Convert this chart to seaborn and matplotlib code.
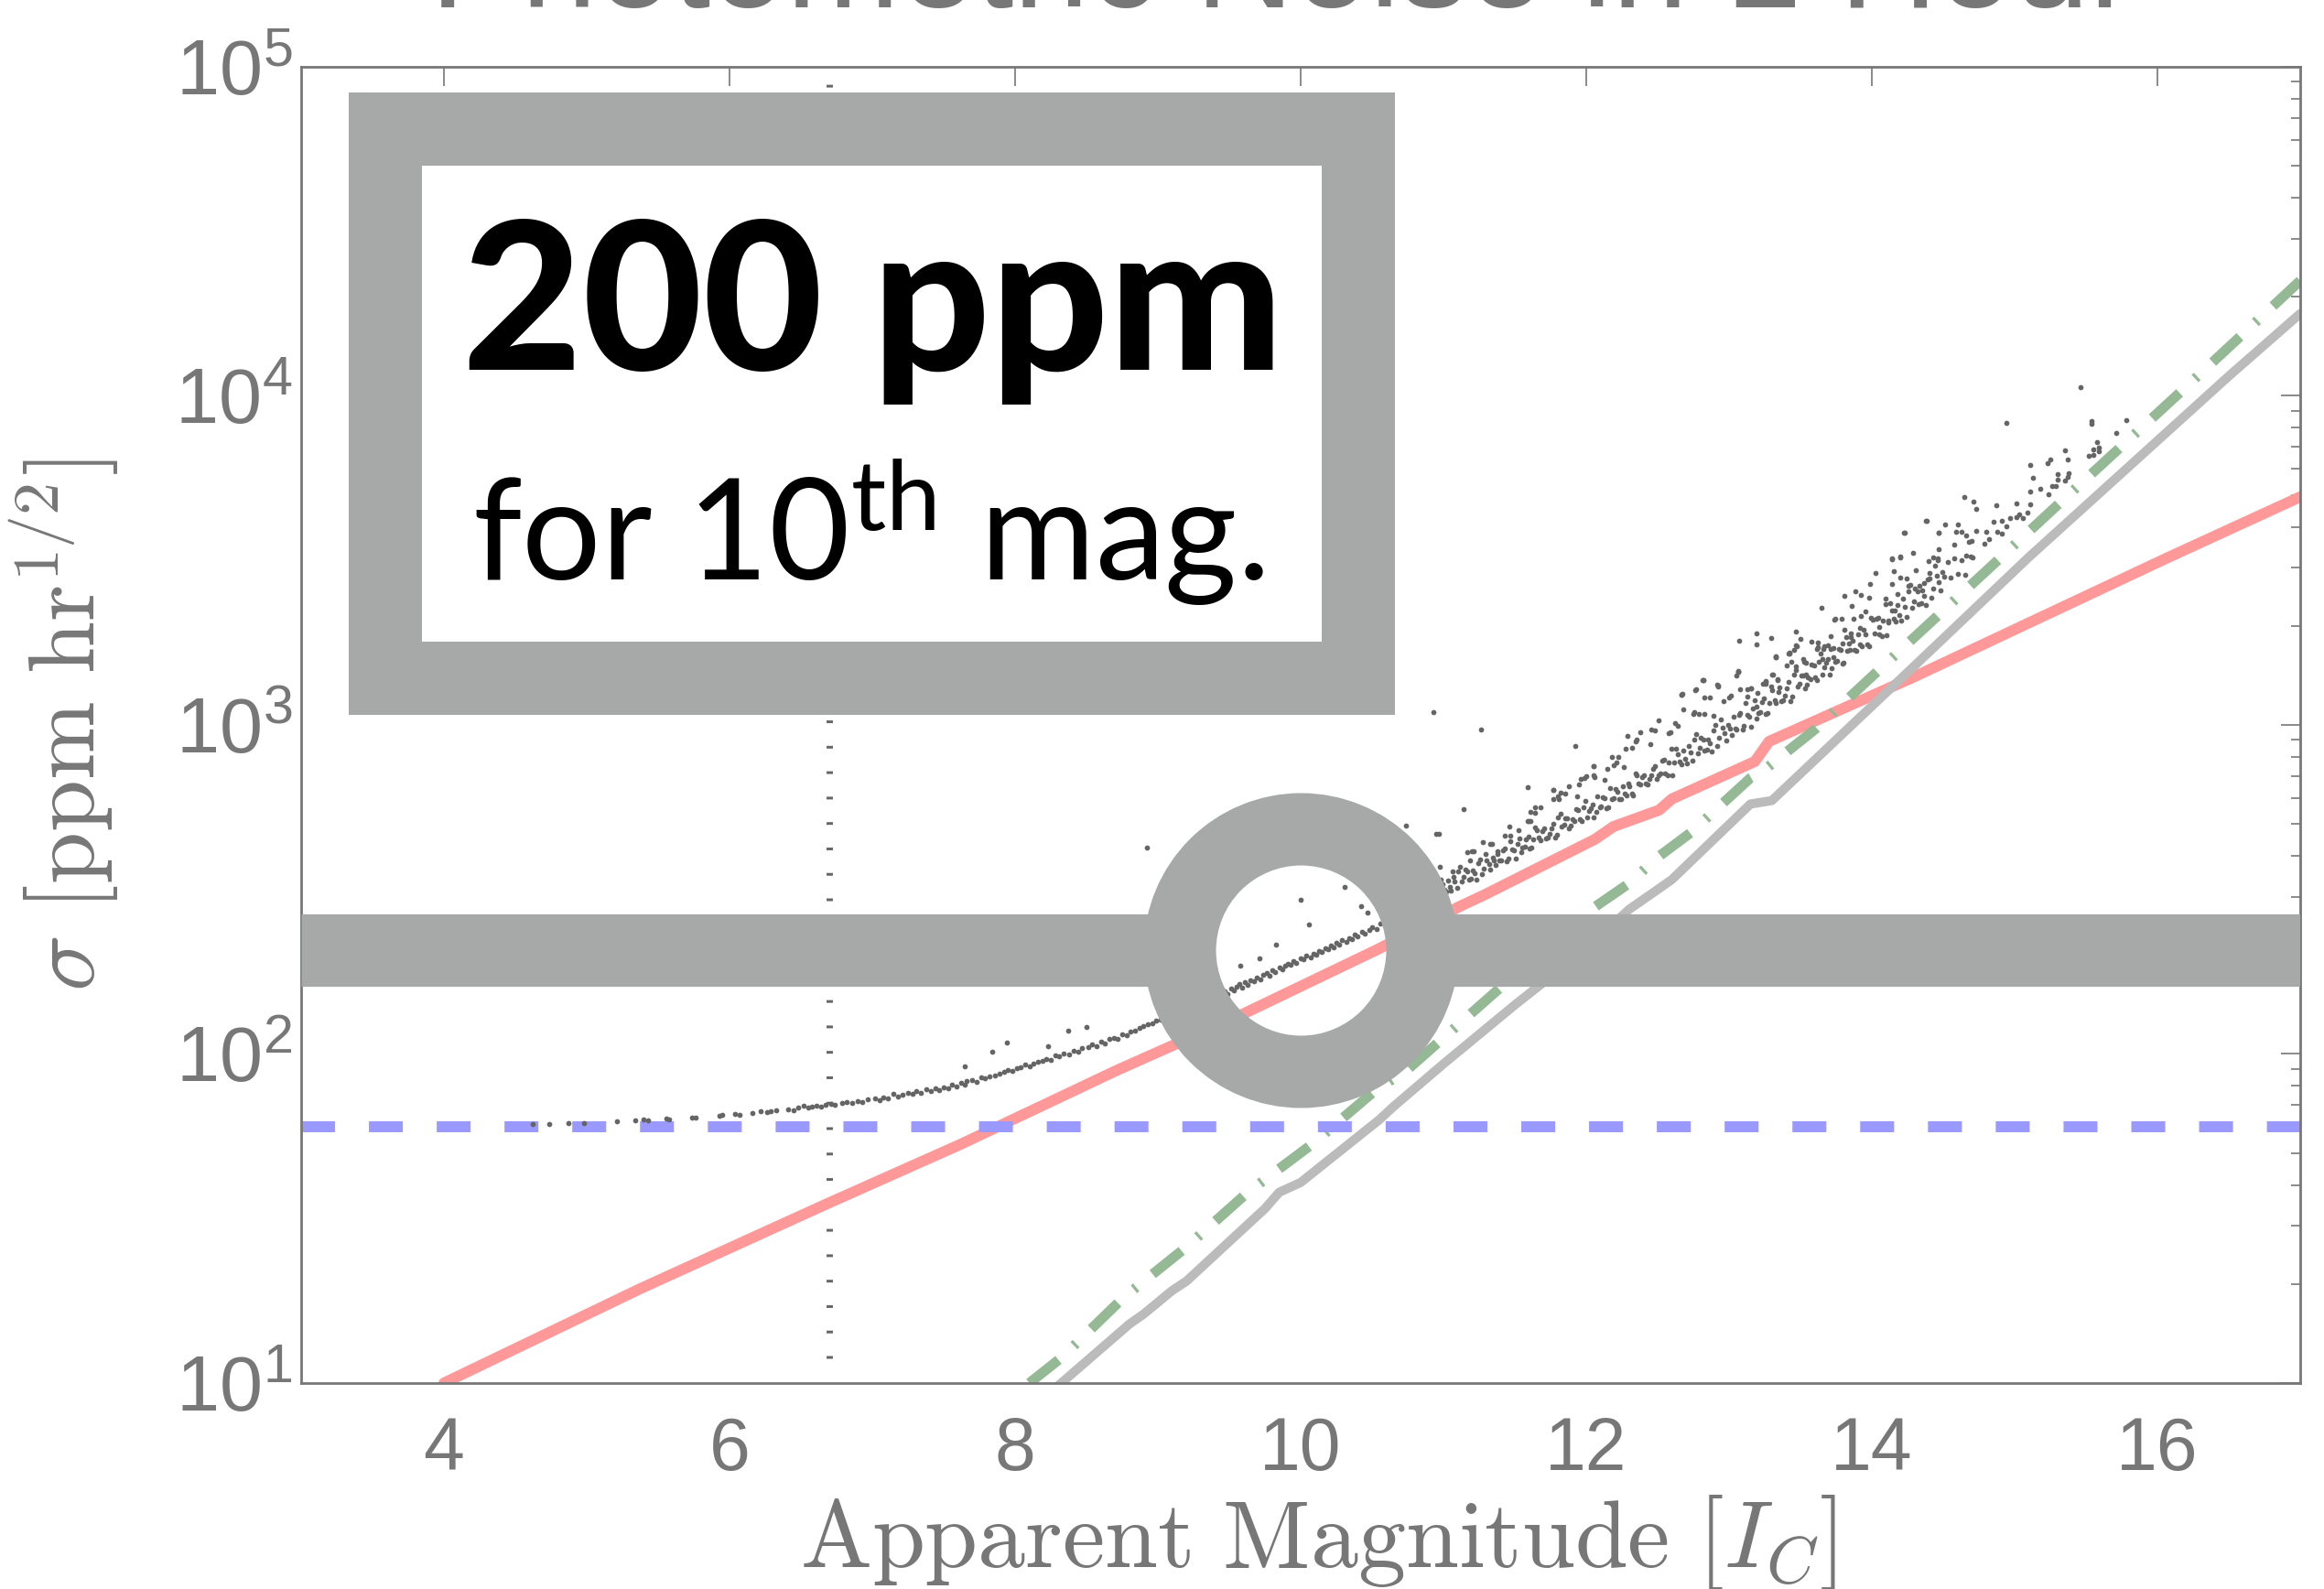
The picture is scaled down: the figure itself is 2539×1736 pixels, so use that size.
import numpy as np
import pandas as pd
import seaborn as sns
import matplotlib.pyplot as plt
from matplotlib.patches import Rectangle
from matplotlib.ticker import NullLocator, NullFormatter, FixedLocator

############
# the data
############

# noise curves, magnitude vs ppm per sqrt(hour)
star_mag = [4.0, 5.38, 6.66, 7.62, 8.71, 9.56, 10.54, 10.95, 11.1, 11.29,
            12.06, 12.19, 12.51, 12.60, 13.18, 13.28, 14.29, 16.06, 17.0]
star_ppm = [10.0, 19.4, 34.7, 53.2, 89.1, 130, 208, 257, 279, 305,
            449, 491, 551, 596, 774, 891, 1396, 3206, 4932]

bkg_mag = [8.30, 8.80, 8.90, 9.10, 9.20, 9.75, 9.85, 10.00, 10.55, 10.65,
           11.00, 11.50, 12.00, 12.30, 12.50, 12.60, 13.15, 13.30, 14.30,
           15.10, 16.50, 17.00]
bkg_ppm = [9.8, 15.1, 16.2, 19.1, 20.4, 33.9, 38.0, 40.7, 63.1, 69.2,
           93.3, 141, 209, 275, 316, 339, 575, 589, 1514,
           3236, 11482, 17783]

read_mag = [8.10, 8.33, 8.76, 9.19, 9.63, 10.08, 10.51, 10.76, 11.0, 11.5,
            12.04, 12.30, 12.49, 12.73, 13.15, 13.24, 13.60, 14.03, 15.30,
            16.15, 17.0]
read_ppm = [10.0, 12.0, 18.2, 25.7, 38.0, 53.2, 76.7, 90.6, 112, 174,
            276, 330, 393, 470, 690, 726, 968, 1442, 4656,
            10162, 22387]

floor_ppm = 60
sat_mag = 6.7
sat_span = [11.9, 92000]

marker_mag = 10
marker_ppm = 207

# stars: (magnitude, log10 ppm)
dots_bright = [
    (4.62, 1.787), (4.74, 1.788), (4.87, 1.790), (4.98, 1.789), (5.21, 1.795),
    (5.34, 1.799), (5.40, 1.800), (5.43, 1.797), (5.56, 1.803), (5.58, 1.801),
    (5.74, 1.806), (5.76, 1.808), (5.93, 1.813), (5.95, 1.815), (6.04, 1.818),
    (6.07, 1.816), (6.16, 1.821), (6.22, 1.826), (6.26, 1.823), (6.29, 1.827),
    (6.33, 1.829), (6.41, 1.831), (6.45, 1.830), (6.48, 1.838), (6.52, 1.843),
    (6.55, 1.836), (6.58, 1.841), (6.61, 1.844), (6.64, 1.840), (6.67, 1.846),
    (6.71, 1.848), (6.74, 1.845), (6.79, 1.850), (6.82, 1.853), (6.86, 1.851),
    (6.90, 1.858), (6.93, 1.855), (6.97, 1.861),
    (7.02, 1.866), (7.05, 1.860), (7.08, 1.868), (7.11, 1.864), (7.15, 1.879),
    (7.18, 1.872), (7.21, 1.875), (7.25, 1.882), (7.28, 1.878), (7.31, 1.886),
    (7.34, 1.881), (7.38, 1.893), (7.41, 1.887), (7.44, 1.896), (7.47, 1.891),
    (7.50, 1.899), (7.53, 1.895), (7.56, 1.907), (7.59, 1.901), (7.62, 1.912),
    (7.65, 1.906), (7.65, 1.962), (7.66, 1.918), (7.70, 1.920), (7.73, 1.914),
    (7.76, 1.928), (7.79, 1.925), (7.82, 1.933), (7.84, 2.007), (7.86, 1.936),
    (7.89, 1.941), (7.92, 1.945), (7.94, 2.035), (7.95, 1.950), (7.98, 1.948),
    (8.01, 1.957), (8.04, 1.960), (8.07, 1.967), (8.10, 1.963), (8.13, 1.972),
    (8.16, 1.975), (8.19, 1.978), (8.22, 1.986), (8.23, 2.024), (8.25, 1.983),
    (8.28, 1.995), (8.31, 1.992), (8.34, 2.002), (8.37, 2.071), (8.38, 1.998),
    (8.41, 2.010), (8.44, 2.006), (8.47, 2.018), (8.50, 2.082), (8.51, 2.021),
    (8.54, 2.028), (8.57, 2.025), (8.60, 2.037), (8.63, 2.033), (8.66, 2.045),
    (8.69, 2.050), (8.72, 2.047), (8.75, 2.060), (8.78, 2.057), (8.81, 2.068),
    (8.84, 2.072), (8.87, 2.078), (8.90, 2.085), (8.92, 2.627), (8.93, 2.090),
    (8.96, 2.094), (8.99, 2.101), (9.02, 2.104), (9.05, 2.114), (9.08, 2.116),
    (9.11, 2.127), (9.14, 2.124),
]

dots_ring = [
    (9.18, 2.132), (9.22, 2.140), (9.26, 2.145), (9.30, 2.156), (9.34, 2.161),
    (9.37, 2.170), (9.40, 2.172), (9.42, 2.181), (9.45, 2.186), (9.47, 2.190),
    (9.49, 2.182), (9.51, 2.199), (9.53, 2.193), (9.55, 2.205), (9.57, 2.214),
    (9.58, 2.268), (9.59, 2.203), (9.61, 2.217), (9.63, 2.210), (9.65, 2.225),
    (9.67, 2.222), (9.69, 2.232), (9.71, 2.290), (9.72, 2.228), (9.74, 2.240),
    (9.76, 2.247), (9.78, 2.238), (9.80, 2.255), (9.82, 2.250), (9.83, 2.332),
    (9.85, 2.262), (9.87, 2.256), (9.89, 2.268), (9.91, 2.275), (9.93, 2.270),
    (9.95, 2.282), (9.97, 2.278), (10.00, 2.469), (10.00, 2.290), (10.02, 2.287),
    (10.04, 2.298), (10.06, 2.394), (10.07, 2.293), (10.09, 2.305), (10.11, 2.301),
    (10.13, 2.314), (10.15, 2.309), (10.17, 2.321), (10.19, 2.318), (10.21, 2.330),
    (10.23, 2.325), (10.25, 2.338), (10.27, 2.333), (10.29, 2.345), (10.31, 2.508),
    (10.32, 2.340), (10.34, 2.352), (10.36, 2.348), (10.38, 2.362), (10.40, 2.357),
    (10.42, 2.449), (10.43, 2.370), (10.45, 2.365), (10.47, 2.430), (10.48, 2.378),
    (10.50, 2.384), (10.53, 2.380), (10.56, 2.395), (10.59, 2.402), (10.62, 2.410),
    (10.66, 2.418), (10.70, 2.430), (10.74, 2.694), (10.75, 2.440), (10.80, 2.452),
]

dots_band_a = [
    (10.879, 2.493), (10.868, 2.464), (10.904, 2.465), (10.893, 2.496),
    (10.929, 2.494), (10.918, 2.464), (10.954, 2.466), (10.943, 2.526),
    (10.979, 2.529), (10.968, 2.497), (11.004, 2.500), (10.993, 2.516),
    (11.029, 2.526), (11.018, 2.494), (11.054, 2.497), (11.043, 2.508),
    (11.079, 2.524), (11.068, 2.539), (11.104, 2.554), (11.093, 2.506),
    (11.129, 2.524), (11.118, 2.568), (11.154, 2.560), (11.143, 2.537),
    (11.179, 2.531), (11.168, 2.556), (11.204, 2.559), (11.193, 2.534),
    (11.229, 2.531), (11.218, 2.549), (11.254, 2.592), (11.243, 2.579),
    (11.279, 2.563), (11.268, 2.546), (11.304, 2.589), (11.293, 2.608),
    (11.329, 2.561), (11.318, 2.578), (11.354, 2.587), (11.343, 2.596),
    (11.379, 2.617), (11.368, 2.574), (11.404, 2.587), (11.393, 2.589),
    (11.429, 2.624), (11.418, 2.620), (11.454, 2.594), (11.443, 2.586),
    (11.479, 2.622), (11.468, 2.648), (11.504, 2.594), (11.493, 2.618),
    (11.529, 2.656), (11.518, 2.637), (11.554, 2.626), (11.543, 2.614),
    (11.579, 2.652), (11.568, 2.629), (11.604, 2.624), (11.593, 2.660),
    (11.629, 2.651), (11.618, 2.627), (11.654, 2.680), (11.643, 2.688),
    (11.679, 2.650), (11.668, 2.658), (11.704, 2.687), (11.693, 2.677),
    (11.729, 2.658), (11.718, 2.655), (11.754, 2.685), (11.743, 2.669),
    (11.779, 2.657), (11.768, 2.700), (11.804, 2.719), (11.793, 2.667),
    (11.829, 2.690), (11.818, 2.729), (11.854, 2.715), (11.843, 2.698),
    (11.879, 2.687), (11.868, 2.717), (11.904, 2.714), (11.893, 2.695),
    (11.929, 2.743), (11.918, 2.709), (11.954, 2.713), (11.943, 2.740),
    (11.979, 2.750), (11.968, 2.707), (12.004, 2.720), (11.993, 2.768),
    (12.029, 2.748), (12.018, 2.738), (12.054, 2.720), (12.043, 2.757),
    (12.079, 2.782), (12.068, 2.735), (12.104, 2.752), (12.093, 2.749),
    (12.129, 2.778), (12.118, 2.780), (12.154, 2.750), (12.143, 2.747),
    (12.179, 2.776), (12.168, 2.808), (12.204, 2.806), (12.193, 2.778),
    (12.229, 2.776), (12.218, 2.797), (12.254, 2.814), (12.243, 2.776),
    (12.279, 2.785), (12.268, 2.791), (12.304, 2.814), (12.293, 2.823),
    (12.329, 2.786), (12.318, 2.790), (12.354, 2.848), (12.343, 2.852),
    (12.379, 2.820), (12.368, 2.823), (12.404, 2.846), (12.393, 2.842),
    (12.429, 2.819), (12.418, 2.821), (12.454, 2.846), (12.443, 2.836),
    (12.479, 2.876), (12.468, 2.867), (12.504, 2.847), (12.493, 2.835),
]

dots_band_b = [
    (12.529, 2.891), (12.518, 2.853), (12.554, 2.852), (12.543, 2.893),
    (12.579, 2.886), (12.568, 2.847), (12.604, 2.848), (12.593, 2.927),
    (12.629, 2.929), (12.618, 2.886), (12.654, 2.889), (12.643, 2.910),
    (12.679, 2.922), (12.668, 2.880), (12.704, 2.883), (12.693, 2.898),
    (12.729, 2.917), (12.718, 2.937), (12.754, 2.955), (12.743, 2.892),
    (12.779, 2.914), (12.768, 2.972), (12.804, 2.962), (12.793, 2.931),
    (12.829, 2.922), (12.818, 2.955), (12.854, 2.956), (12.843, 2.924),
    (12.879, 2.919), (12.868, 2.943), (12.904, 2.999), (12.893, 2.982),
    (12.929, 2.960), (12.918, 2.937), (12.954, 2.992), (12.943, 3.017),
    (12.979, 2.954), (12.968, 2.976), (13.004, 2.988), (12.993, 3.000),
    (13.029, 3.026), (13.018, 2.970), (13.054, 2.986), (13.043, 2.989),
    (13.079, 3.035), (13.068, 3.030), (13.104, 2.996), (13.093, 2.985),
    (13.129, 3.031), (13.118, 3.066), (13.154, 2.994), (13.143, 3.025),
    (13.179, 3.075), (13.168, 3.050), (13.204, 3.036), (13.193, 3.020),
    (13.229, 3.070), (13.218, 3.040), (13.254, 3.032), (13.243, 3.080),
    (13.279, 3.067), (13.268, 3.035), (13.304, 3.105), (13.293, 3.116),
    (13.329, 3.066), (13.318, 3.076), (13.354, 3.114), (13.343, 3.101),
    (13.379, 3.075), (13.368, 3.071), (13.404, 3.110), (13.393, 3.090),
    (13.429, 3.073), (13.418, 3.130), (13.454, 3.154), (13.443, 3.085),
    (13.479, 3.116), (13.468, 3.167), (13.504, 3.149), (13.493, 3.126),
    (13.529, 3.111), (13.518, 3.151), (13.554, 3.146), (13.543, 3.121),
    (13.579, 3.184), (13.568, 3.140), (13.604, 3.145), (13.593, 3.181),
    (13.629, 3.193), (13.618, 3.136), (13.654, 3.154), (13.643, 3.217),
    (13.679, 3.189), (13.668, 3.176), (13.704, 3.152), (13.693, 3.201),
    (13.729, 3.234), (13.718, 3.172), (13.754, 3.195), (13.743, 3.191),
    (13.779, 3.228), (13.768, 3.231), (13.804, 3.190), (13.793, 3.186),
    (13.829, 3.226), (13.818, 3.268), (13.854, 3.266), (13.843, 3.229),
    (13.879, 3.227), (13.868, 3.255), (13.904, 3.276), (13.893, 3.226),
    (13.929, 3.238), (13.918, 3.246), (13.954, 3.275), (13.943, 3.288),
    (13.979, 3.239), (13.968, 3.244), (14.004, 3.321), (13.993, 3.326),
]

dots_band_c = [
    (14.029, 3.323), (14.018, 3.277), (14.054, 3.276), (14.043, 3.326),
    (14.079, 3.318), (14.068, 3.271), (14.104, 3.273), (14.093, 3.368),
    (14.129, 3.370), (14.118, 3.318), (14.154, 3.324), (14.143, 3.349),
    (14.179, 3.363), (14.168, 3.313), (14.204, 3.317), (14.193, 3.335),
    (14.229, 3.359), (14.218, 3.383), (14.254, 3.405), (14.243, 3.329),
    (14.279, 3.356), (14.268, 3.426), (14.304, 3.414), (14.293, 3.376),
    (14.329, 3.366), (14.318, 3.406), (14.354, 3.409), (14.343, 3.371),
    (14.379, 3.364), (14.368, 3.393), (14.404, 3.461), (14.393, 3.441),
    (14.429, 3.414), (14.418, 3.386), (14.454, 3.454), (14.443, 3.484),
    (14.479, 3.408), (14.468, 3.434), (14.504, 3.450), (14.493, 3.464),
    (14.529, 3.496), (14.554, 3.447), (14.579, 3.506), (14.604, 3.459),
    (14.629, 3.502), (14.654, 3.457), (14.679, 3.555), (14.704, 3.509),
]

dots_upper = [
    (10.93, 3.039), (10.95, 2.669), (10.97, 2.669), (10.976, 2.570), (11.062, 2.556),
    (11.14, 2.744), (11.169, 2.612), (11.183, 2.588), (11.199, 2.616), (11.211, 2.616),
    (11.26, 2.986), (11.276, 2.644), (11.330, 2.639), (11.340, 2.639), (11.379, 2.607),
    (11.428, 2.663), (11.46, 2.691), (11.468, 2.663), (11.526, 2.681), (11.59, 2.811),
    (11.592, 2.709), (11.596, 2.709), (11.607, 2.709), (11.608, 2.737), (11.639, 2.732),
    (11.641, 2.751), (11.682, 2.751), (11.767, 2.802), (11.767, 2.774), (11.77, 2.803),
    (11.804, 2.783), (11.810, 2.774), (11.820, 2.795), (11.853, 2.792), (11.880, 2.813),
    (11.92, 2.936), (11.938, 2.783), (11.951, 2.820), (11.959, 2.837), (11.984, 2.839),
    (12.002, 2.843), (12.049, 2.848), (12.049, 2.874), (12.055, 2.842), (12.05, 2.875),
    (12.126, 2.834), (12.147, 2.867), (12.180, 2.904), (12.194, 2.878), (12.213, 2.885),
    (12.226, 2.902), (12.263, 2.873), (12.278, 2.927), (12.29, 2.967), (12.323, 2.930),
    (12.344, 2.950), (12.355, 2.955), (12.376, 2.978), (12.451, 2.941), (12.458, 2.987),
    (12.48, 2.983), (12.507, 3.015), (12.579, 2.975), (12.589, 2.978), (12.622, 3.006),
    (12.638, 2.996), (12.664, 3.092), (12.664, 3.093), (12.671, 3.094), (12.682, 3.047),
    (12.75, 3.033), (12.754, 3.038), (12.765, 3.105), (12.769, 3.108), (12.788, 3.033),
    (12.814, 3.135), (12.818, 3.135), (12.820, 3.135), (12.825, 3.033), (12.83, 3.084),
    (12.867, 3.084), (12.889, 3.029), (12.916, 3.122), (12.920, 3.118), (12.921, 3.119),
    (12.964, 3.072), (12.998, 3.084), (13.013, 3.089), (13.049, 3.149), (13.063, 3.163),
    (13.066, 3.160), (13.066, 3.161), (13.070, 3.256), (13.077, 3.108), (13.128, 3.085),
    (13.128, 3.108), (13.151, 3.112), (13.154, 3.111), (13.192, 3.244), (13.194, 3.277),
    (13.194, 3.057), (13.199, 3.098), (13.237, 3.124), (13.258, 3.131), (13.258, 3.133),
    (13.259, 3.126), (13.297, 3.263), (13.301, 3.154), (13.305, 3.154), (13.325, 3.210),
    (13.326, 3.205), (13.327, 3.205), (13.337, 3.140), (13.340, 3.137), (13.406, 3.182),
    (13.418, 3.218), (13.421, 3.219), (13.423, 3.217), (13.438, 3.191), (13.455, 3.228),
    (13.465, 3.283), (13.465, 3.177), (13.466, 3.242), (13.472, 3.239), (13.497, 3.262),
    (13.521, 3.200), (13.523, 3.191), (13.536, 3.189), (13.540, 3.154), (13.579, 3.254),
    (13.615, 3.232), (13.621, 3.251), (13.622, 3.236), (13.647, 3.357), (13.651, 3.200),
    (13.658, 3.232), (13.669, 3.239), (13.690, 3.242), (13.711, 3.269), (13.711, 3.230),
    (13.733, 3.205), (13.737, 3.320), (13.743, 3.322), (13.786, 3.322), (13.797, 3.247),
    (13.807, 3.393), (13.807, 3.288), (13.840, 3.247), (13.850, 3.279), (13.861, 3.362),
    (13.871, 3.322), (13.886, 3.407), (13.914, 3.294), (13.925, 3.396), (13.925, 3.332),
    (13.957, 3.344), (13.978, 3.387), (13.985, 3.429), (14.025, 3.462), (14.053, 3.297),
    (14.096, 3.385), (14.117, 3.311), (14.138, 3.503), (14.138, 3.427), (14.14, 3.506),
    (14.156, 3.467), (14.160, 3.348), (14.177, 3.399), (14.196, 3.510), (14.196, 3.448),
    (14.20, 3.512), (14.226, 3.584), (14.23, 3.584), (14.245, 3.446), (14.256, 3.424),
    (14.29, 3.523), (14.309, 3.469), (14.331, 3.422), (14.363, 3.430), (14.38, 3.620),
    (14.384, 3.621), (14.399, 3.497), (14.406, 3.446), (14.43, 3.509), (14.459, 3.501),
    (14.46, 3.506), (14.465, 3.585), (14.47, 3.534), (14.47, 3.584), (14.51, 3.609),
    (14.58, 3.548), (14.59, 3.587), (14.60, 3.609), (14.63, 3.587), (14.65, 3.693),
    (14.66, 3.515), (14.66, 3.576), (14.69, 3.512), (14.70, 3.559), (14.71, 3.679),
    (14.73, 3.590), (14.73, 3.656), (14.79, 3.551), (14.80, 3.587), (14.82, 3.565),
    (14.85, 3.618), (14.87, 3.668), (14.88, 3.587), (14.91, 3.581), (14.91, 3.620),
    (14.94, 3.604), (14.94, 3.918), (14.97, 3.629), (15.01, 3.631), (15.01, 3.673),
    (15.03, 3.640), (15.06, 3.629), (15.09, 3.645), (15.11, 3.670), (15.11, 3.709),
    (15.11, 3.790), (15.13, 3.751), (15.18, 3.718), (15.23, 3.796), (15.24, 3.701),
    (15.25, 3.807), (15.26, 3.726), (15.29, 3.726), (15.30, 3.745), (15.30, 3.762),
    (15.35, 3.743), (15.35, 3.834), (15.37, 3.807), (15.37, 3.754), (15.38, 3.765),
    (15.46, 4.026), (15.52, 3.818), (15.54, 3.923), (15.54, 3.915), (15.55, 3.821),
    (15.55, 3.837), (15.58, 3.860), (15.59, 3.843), (15.59, 3.832), (15.71, 3.887),
    (15.78, 3.926),
]

GRAY = '#777777'
BOX_GRAY = '#A6A9A8'

###############
# figure setup
###############

sns.set_style('white')
plt.rcParams['font.family'] = ['Liberation Sans', 'DejaVu Sans']
plt.rcParams['mathtext.fontset'] = 'custom'
plt.rcParams['mathtext.rm'] = 'Lato'
plt.rcParams['mathtext.it'] = 'Lato:italic'
plt.rcParams['mathtext.bf'] = 'Lato:bold'

fig = plt.figure(figsize=(25.39, 17.36), dpi=100)
ax = fig.add_axes([0.12958, 0.12961, 0.86018, 0.82834])
ax.set_yscale('log')

dots = pd.DataFrame(dots_bright + dots_ring + dots_band_a + dots_band_b
                    + dots_band_c + dots_upper, columns=['mag', 'log_ppm'])
dots['ppm'] = 10 ** dots['log_ppm']

star = pd.DataFrame({'mag': star_mag, 'ppm': star_ppm})
bkg = pd.DataFrame({'mag': bkg_mag, 'ppm': bkg_ppm})
read = pd.DataFrame({'mag': read_mag, 'ppm': read_ppm})

# noise curves
sns.lineplot(data=star, x='mag', y='ppm', ax=ax, color='#FF9999', lw=8.6,
             estimator=None, sort=False, zorder=2)
sns.lineplot(data=bkg, x='mag', y='ppm', ax=ax, color='#BBBBBB', lw=7.2,
             estimator=None, sort=False, zorder=2)
sns.lineplot(data=read, x='mag', y='ppm', ax=ax, color='#94B994', lw=7.9,
             linestyle=(0, (3.7, 2.1, 0.3, 2.1)), estimator=None, sort=False,
             zorder=2)

# systematic floor and saturation limit
ax.plot([3, 17], [floor_ppm, floor_ppm], color='#9999FF', lw=8.6,
        linestyle=(0, (3.1, 3.1)), zorder=2.2)
ax.plot([sat_mag, sat_mag], sat_span, color='#666666', lw=5,
        linestyle=(0, (0.43, 3.57)), zorder=1.5)

# stars
sns.scatterplot(data=dots, x='mag', y='ppm', ax=ax, s=17, color='#656565',
                linewidth=0, zorder=3)

# the "200 ppm" marker: thick bar with a ring at 10th mag
ring_gap = 0.85
ax.plot([3, marker_mag - ring_gap], [marker_ppm, marker_ppm], color=BOX_GRAY,
        lw=57, solid_capstyle='butt', zorder=5)
ax.plot([marker_mag + ring_gap, 17], [marker_ppm, marker_ppm], color=BOX_GRAY,
        lw=57, solid_capstyle='butt', zorder=5)
ax.plot([marker_mag], [marker_ppm], marker='o', ms=190.8, mfc='none',
        mec=BOX_GRAY, mew=56.9, zorder=6)

# label box
ax.add_patch(Rectangle((0.0419, 0.5358), 0.4869, 0.4166, transform=ax.transAxes,
                       facecolor='white', edgecolor=BOX_GRAY, lw=57.6,
                       joinstyle='miter', zorder=7, clip_on=False))

##########
# axes
##########

ax.set_xlim(3, 17)
ax.set_ylim(10, 1e5)
ax.xaxis.set_major_locator(FixedLocator([4, 6, 8, 10, 12, 14, 16]))
ax.xaxis.set_minor_locator(NullLocator())
ax.yaxis.set_minor_formatter(NullFormatter())

ax.tick_params(which='both', direction='in', top=True, right=True,
               colors=GRAY, labelcolor=GRAY)
ax.tick_params(which='major', length=15, width=1.2)
ax.tick_params(which='minor', length=7.5, width=1.2)
ax.tick_params(axis='x', pad=26, labelsize=58)
ax.tick_params(axis='y', pad=7, labelsize=61)
for sp in ax.spines.values():
    sp.set_color(GRAY)
    sp.set_linewidth(2)

ax.set_xlabel(r'$\mathrm{Apparent\ Magnitude}\ [I_C]$', fontsize=75,
              color=GRAY, math_fontfamily='cm')
ax.set_ylabel(r'$\sigma\ [\mathrm{ppm\ hr}^{1/2}]$', fontsize=74,
              color=GRAY, math_fontfamily='cm')
ax.xaxis.set_label_coords(0.509, -0.0835)
ax.yaxis.set_label_coords(-0.0902, 0.5)

# box texts
fig.text(953.5 / 2539, 1 - 404 / 1736, '200 ppm', ha='center', va='baseline',
         fontsize=163, fontweight='black', family=['Lato', 'DejaVu Sans'],
         color='black', zorder=10)
fig.text(948.5 / 2539, 1 - 634.5 / 1736, r'for 10$^{\mathrm{th}}$ mag.',
         ha='center', va='baseline', fontsize=110, fontweight='normal',
         family=['Lato', 'DejaVu Sans'], color='black',
         math_fontfamily='custom', zorder=10)

# title, mostly cut off by the top edge of the picture
title = fig.text(1401 / 2539, 1 - 8 / 1736, 'Photometric Noise in 1 Hour',
                 ha='center', va='baseline', fontsize=100, color=GRAY,
                 family=['Liberation Sans Narrow', 'Liberation Sans'])
fig.canvas.draw()
w = title.get_window_extent().width
title.set_fontsize(100 * 1862 / w)

fig.savefig('out.png', dpi=100)
